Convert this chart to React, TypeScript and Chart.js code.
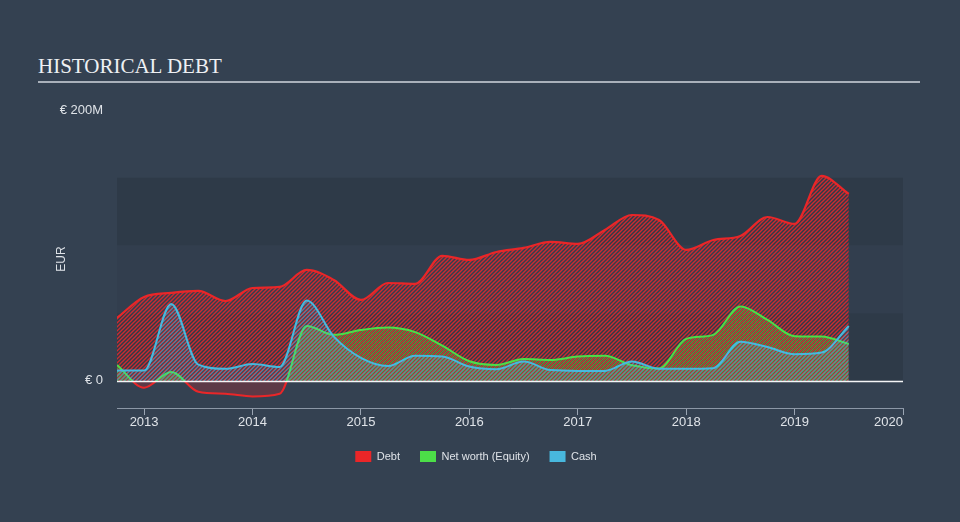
import React, { useEffect, useRef } from "react";
import { Chart, registerables } from "chart.js";

Chart.register(...registerables);

// Quarter-end dates (YYYY-MM)
const quarters = [
  "2012-09", "2012-12", "2013-03", "2013-06", "2013-09", "2013-12", "2014-03", "2014-06",
  "2014-09", "2014-12", "2015-03", "2015-06", "2015-09", "2015-12", "2016-03", "2016-06",
  "2016-09", "2016-12", "2017-03", "2017-06", "2017-09", "2017-12", "2018-03", "2018-06",
  "2018-09", "2018-12", "2019-03", "2019-06",
];

// Values in € millions
const debt = [
  46.5, 62, 65, 66.4, 59, 68.6, 69.4, 81.9, 74.5, 59.8, 72.3, 71.6, 92.3, 89.3, 95.2, 98.2,
  102.6, 101.1, 111.4, 122.5, 118.8, 96.7, 104, 107, 121, 115.9, 151.3, 138,
];
const equity = [
  11.8, -5, 6.6, -8, -9.5, -11.5, -9.5, 40.6, 34, 37.6, 39.4, 36, 26, 14.5, 11.8, 16.2,
  15.5, 18, 18.5, 11.5, 9.2, 31, 34, 55, 45, 33, 32.7, 27.3,
];
const cash = [
  7.6, 7.6, 56.8, 12, 8.9, 12.5, 10.3, 59.3, 32.7, 17, 11, 18.5, 18, 10.6, 8.6, 14.3,
  8, 7.4, 7.4, 14.3, 9, 9, 9.4, 29, 25, 19.7, 20.9, 40.6,
];

const seriesNames = ["Debt", "Net worth (Equity)", "Cash"];
const yearTicks = [2013, 2014, 2015, 2016, 2017, 2018, 2019, 2020];
const yTickValues = [0, 200];
const xMin = 2012.75;
const xMax = 2020;
const yMin = -20;
const yMax = 200;
const bands = [
  { from: 0, to: 50, shade: 0.1 },
  { from: 50, to: 100, shade: 0.03 },
  { from: 100, to: 150, shade: 0.1 },
];

const RED = "rgb(234,38,40)";
const GREEN = "rgb(76,222,72)";
const BLUE = "rgb(72,184,222)";
const TEXT = "#dfe3e8";
const SANS = '"Liberation Sans", Arial, Helvetica, sans-serif';

const toYear = (q: string) => {
  const [y, m] = q.split("-").map(Number);
  return y + m / 12;
};

function hatch(color: string, offset = 0, width = 1.2): CanvasPattern | string {
  const size = 4;
  const c = document.createElement("canvas");
  c.width = size;
  c.height = size;
  const g = c.getContext("2d");
  if (!g) return color;
  g.strokeStyle = color;
  g.lineWidth = width;
  g.beginPath();
  for (const k of [offset - size, offset, offset + size, offset + 2 * size]) {
    g.moveTo(k + 1, -1);
    g.lineTo(-1, k + 1);
  }
  g.stroke();
  const p = g.createPattern(c, "repeat");
  return p || color;
}

const bandsPlugin = {
  id: "bands",
  beforeDraw(chart: any) {
    const { ctx, chartArea, scales } = chart;
    if (!chartArea) return;
    const y = scales.y;
    ctx.save();
    bands.forEach((b) => {
      const top = y.getPixelForValue(b.to);
      const bottom = y.getPixelForValue(b.from);
      ctx.fillStyle = `rgba(0,0,0,${b.shade})`;
      ctx.fillRect(chartArea.left, top, chartArea.right - chartArea.left, bottom - top);
    });
    ctx.restore();
  },
};

const zeroLinePlugin = {
  id: "zeroLine",
  afterDatasetsDraw(chart: any) {
    const { ctx, chartArea, scales } = chart;
    if (!chartArea) return;
    const y0 = Math.round(scales.y.getPixelForValue(0)) + 0.5;
    ctx.save();
    ctx.strokeStyle = "rgba(255,255,255,0.95)";
    ctx.lineWidth = 1.5;
    ctx.beginPath();
    ctx.moveTo(chartArea.left, y0);
    ctx.lineTo(chartArea.right, y0);
    ctx.stroke();
    ctx.restore();
  },
};

export default function App() {
  const canvasRef = useRef<HTMLCanvasElement | null>(null);

  useEffect(() => {
    if (!canvasRef.current) return;
    const xs = quarters.map(toYear);
    const toPoints = (vals: number[]) => vals.map((v, i) => ({ x: xs[i], y: v }));

    const equityBorder = (ctx: any) => {
      const chart = ctx.chart;
      const area = chart.chartArea;
      if (!area) return GREEN;
      const y0 = chart.scales.y.getPixelForValue(0);
      const g = chart.ctx.createLinearGradient(0, area.top, 0, area.bottom);
      const stop = Math.min(1, Math.max(0, (y0 - area.top) / (area.bottom - area.top)));
      g.addColorStop(0, GREEN);
      g.addColorStop(stop, GREEN);
      g.addColorStop(stop, RED);
      g.addColorStop(1, RED);
      return g;
    };

    const legendColors = [RED, GREEN, BLUE];
    const greenHatch = hatch("rgba(100,205,60,0.6)", 2, 1.3);

    const chart = new Chart(canvasRef.current, {
      type: "line",
      data: {
        datasets: [
          {
            label: seriesNames[0],
            data: toPoints(debt),
            borderColor: RED,
            borderWidth: 2.2,
            backgroundColor: hatch("rgba(232,40,44,0.85)", 0, 1.4),
            fill: "origin",
            order: 3,
          },
          {
            label: seriesNames[1],
            data: toPoints(equity),
            borderColor: equityBorder,
            backgroundColor: greenHatch,
            fill: {
              target: "origin",
              above: greenHatch,
              below: "rgba(215,40,45,0.25)",
            },
            order: 2,
          },
          {
            label: seriesNames[2],
            data: toPoints(cash),
            borderColor: BLUE,
            backgroundColor: hatch("rgba(80,180,225,0.55)", 1, 1.3),
            fill: "origin",
            order: 1,
          },
        ],
      },
      options: {
        responsive: false,
        animation: false,
        devicePixelRatio: 1,
        parsing: false,
        layout: { padding: { top: 110, right: 57, left: 49, bottom: 50 } },
        elements: {
          point: { radius: 0, hoverRadius: 0 },
          line: { borderWidth: 2, cubicInterpolationMode: "monotone" },
        },
        plugins: {
          tooltip: { enabled: false },
          legend: {
            position: "bottom",
            labels: {
              boxWidth: 16,
              boxHeight: 11,
              padding: 20,
              color: TEXT,
              font: { family: SANS, size: 11 },
              generateLabels: (ch: any) =>
                ch.data.datasets.map((ds: any, i: number) => ({
                  text: ds.label,
                  fillStyle: legendColors[i],
                  strokeStyle: legendColors[i],
                  lineWidth: 0,
                  hidden: false,
                  datasetIndex: i,
                  fontColor: TEXT,
                })),
            },
          },
        },
        scales: {
          x: {
            type: "linear",
            min: xMin,
            max: xMax,
            afterBuildTicks: (s: any) => {
              s.ticks = [xMin, ...yearTicks].map((v) => ({ value: v }));
            },
            afterFit: (s: any) => {
              s.height = 23;
            },
            ticks: {
              autoSkip: false,
              maxRotation: 0,
              align: "inner",
              padding: 0,
              color: TEXT,
              font: { family: SANS, size: 13 },
              callback: (v: any) => (Number.isInteger(v) ? String(v) : ""),
            },
            grid: {
              drawOnChartArea: false,
              drawTicks: true,
              tickLength: 7,
              color: (c: any) =>
                c.tick && Number.isInteger(c.tick.value) ? "#9aa5b3" : "rgba(0,0,0,0)",
            },
            border: { color: "#8c97a6", width: 1 },
          },
          y: {
            min: yMin,
            max: yMax,
            afterBuildTicks: (s: any) => {
              s.ticks = yTickValues.map((v) => ({ value: v }));
            },
            afterFit: (s: any) => {
              s.width = 68;
            },
            ticks: {
              padding: 14,
              color: TEXT,
              font: { family: SANS, size: 13 },
              callback: (v: any) => (v === 0 ? "€ 0" : `€ ${v}M`),
            },
            grid: { drawTicks: false, color: "rgba(0,0,0,0)" },
            border: { display: false },
            title: {
              display: true,
              text: "EUR",
              color: TEXT,
              font: { family: SANS, size: 12 },
              padding: { top: 5, bottom: 0 },
            },
          },
        },
      },
      plugins: [bandsPlugin, zeroLinePlugin],
    } as any);

    return () => chart.destroy();
  }, []);

  return (
    <div
      style={{
        position: "absolute",
        left: 0,
        top: 0,
        width: 960,
        height: 522,
        background: "rgb(52,65,81)",
        overflow: "hidden",
      }}
    >
      <div
        style={{
          position: "absolute",
          left: 38,
          top: 56,
          fontFamily: '"Liberation Serif", "Times New Roman", serif',
          fontSize: 21,
          lineHeight: "21px",
          color: "#eef0f3",
          whiteSpace: "nowrap",
        }}
      >
        HISTORICAL DEBT
      </div>
      <div
        style={{
          position: "absolute",
          left: 38,
          top: 81,
          width: 882,
          height: 2,
          background: "#a9b0ba",
        }}
      />
      <canvas
        ref={canvasRef}
        width={960}
        height={522}
        style={{ position: "absolute", left: 0, top: 0, width: 960, height: 522 }}
      />
    </div>
  );
}
